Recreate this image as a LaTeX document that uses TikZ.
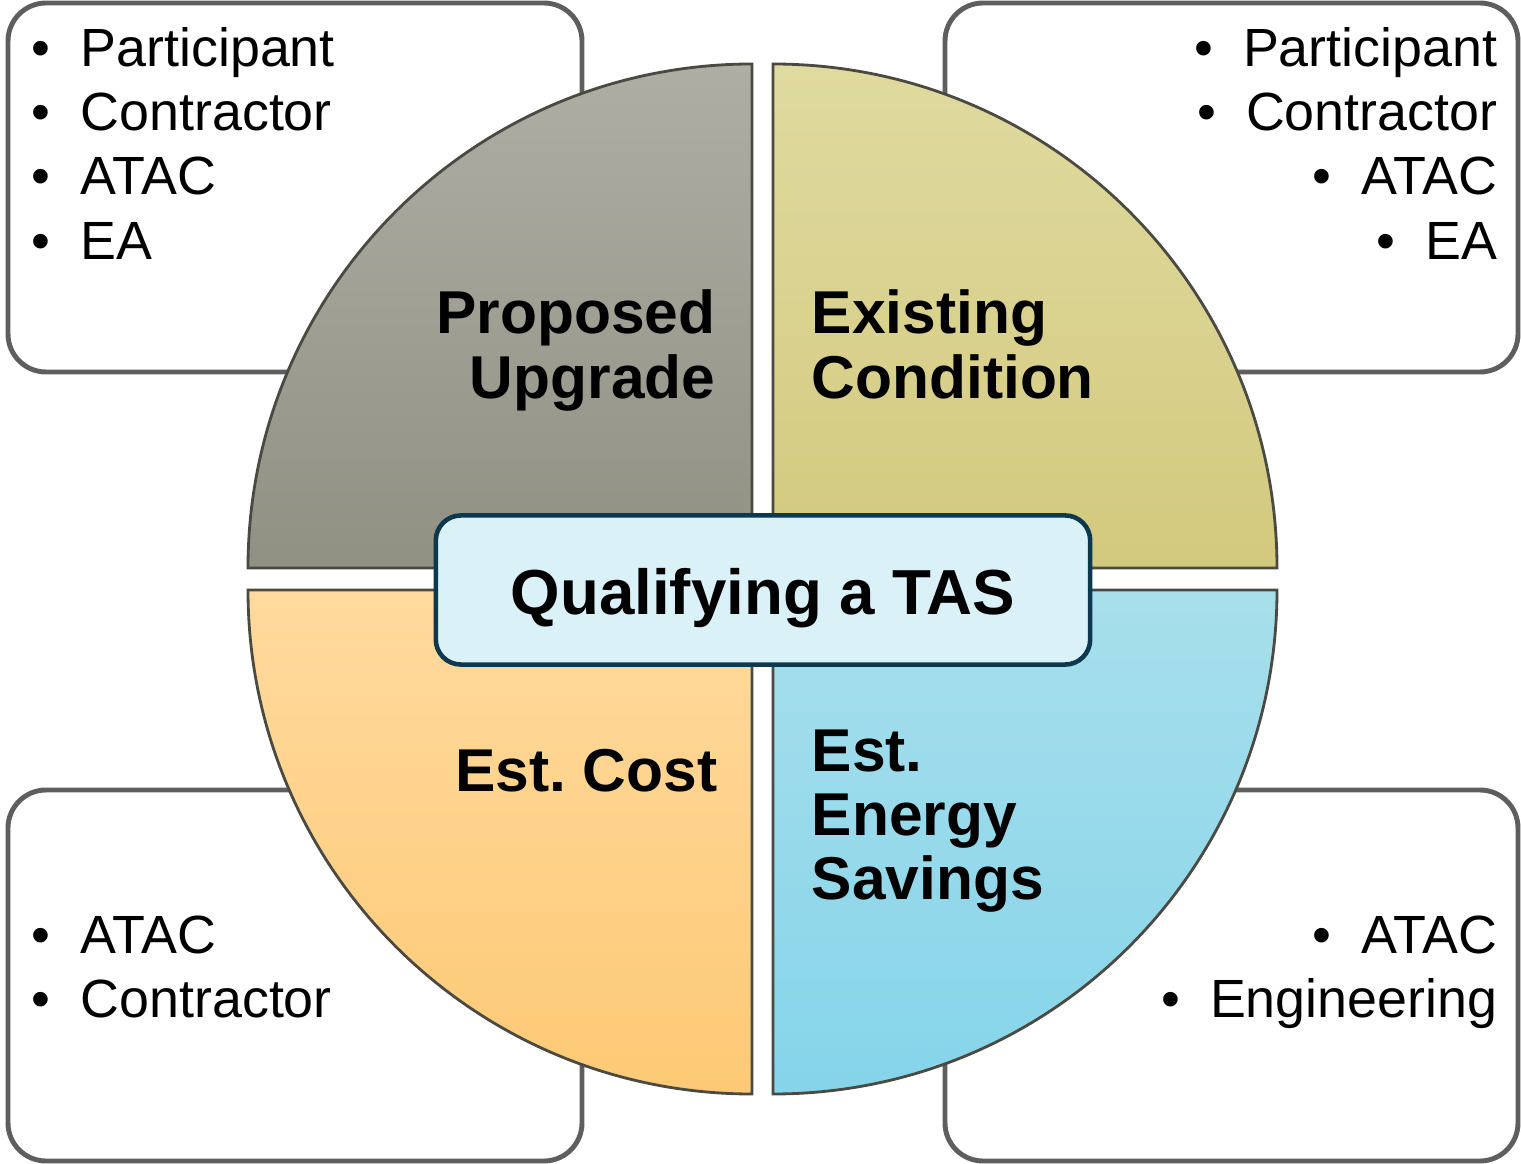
\documentclass[tikz,border=0pt]{standalone}
\usepackage{fontspec}
\setmainfont{Liberation Sans}
\usepackage{xcolor}
\usepackage{tikz}

\definecolor{boxline}{HTML}{5E5E5E}
\definecolor{quadline}{HTML}{4A4A43}
\definecolor{greytop}{HTML}{AEAEA5}
\definecolor{greybot}{HTML}{909083}
\definecolor{olivetop}{HTML}{DFDA9F}
\definecolor{olivebot}{HTML}{D3C97E}
\definecolor{orangetop}{HTML}{FFDA9E}
\definecolor{orangebot}{HTML}{FDC975}
\definecolor{bluetop}{HTML}{A8DFEB}
\definecolor{bluebot}{HTML}{85D4EA}
\definecolor{tasfill}{HTML}{D9F1F7}
\definecolor{tasline}{HTML}{0C394E}

\newcommand{\bul}{\llap{\textbullet\hspace{0.3cm}}}

\begin{document}
\begin{tikzpicture}[x=0.01cm,y=-0.01cm,
  sidebox/.style={draw=boxline,line width=1.4pt,fill=white,rounded corners=0.38cm},
  quad/.style={draw=quadline,line width=0.8pt},
  item/.style={inner sep=0pt,font=\fontsize{15.3}{18}\selectfont},
  qlabel/.style={inner sep=0pt,font=\fontsize{17.2}{20}\selectfont\bfseries},
  titlebox/.style={draw=tasline,fill=tasfill,line width=1.3pt,rounded corners=0.25cm,
    minimum width=6.54cm,minimum height=1.49cm,inner sep=0pt,
    text height=0.49cm,text depth=0pt,font=\fontsize{18.1}{20}\selectfont\bfseries}]

\useasboundingbox (0,0) rectangle (1521,1164);

% corner boxes
\draw [sidebox] (8,3) rectangle (582,372);
\draw [sidebox] (945,3) rectangle (1518,372);
\draw [sidebox] (8,790) rectangle (582,1161);
\draw [sidebox] (945,790) rectangle (1518,1161);

% the four quarters
\draw [quad,top color=greytop,bottom color=greybot] (752,568) -- (248,568)
  arc [start angle=180,end angle=270,radius=504] -- cycle;
\draw [quad,top color=olivetop,bottom color=olivebot] (773,568) -- (773,64)
  arc [start angle=270,end angle=360,radius=504] -- cycle;
\draw [quad,top color=bluetop,bottom color=bluebot] (773,590) -- (1277,590)
  arc [start angle=0,end angle=90,radius=504] -- cycle;
\draw [quad,top color=orangetop,bottom color=orangebot] (752,590) -- (752,1094)
  arc [start angle=90,end angle=180,radius=504] -- cycle;

\node [titlebox] (tas) at (763,590) {Qualifying a TAS};

% quarter labels
\node [qlabel,anchor=base east] (prop) at (716,334) {Proposed};
\node [qlabel,anchor=base east] (upg) at (716,399) {Upgrade};
\node [qlabel,anchor=base west] (exist) at (811,334) {Existing};
\node [qlabel,anchor=base west] (cond) at (811,399) {Condition};
\node [qlabel,anchor=base east] (cost) at (718,791) {Est.~Cost};
\node [qlabel,anchor=base west] (est) at (811,771) {Est.};
\node [qlabel,anchor=base west] (energy) at (811,835) {Energy};
\node [qlabel,anchor=base west] (sav) at (811,899) {Savings};

% lists
\node [item,anchor=base west] (tl1) at (80,67) {\bul Participant};
\node [item,anchor=base west] (tl2) at (80,131) {\bul Contractor};
\node [item,anchor=base west] (tl3) at (80,195) {\bul ATAC};
\node [item,anchor=base west] (tl4) at (80,260) {\bul EA};

\node [item,anchor=base east] (tr1) at (1498,67) {\bul Participant};
\node [item,anchor=base east] (tr2) at (1498,131) {\bul Contractor};
\node [item,anchor=base east] (tr3) at (1498,195) {\bul ATAC};
\node [item,anchor=base east] (tr4) at (1498,260) {\bul EA};

\node [item,anchor=base west] (bl1) at (80,953) {\bul ATAC};
\node [item,anchor=base west] (bl2) at (80,1017) {\bul Contractor};

\node [item,anchor=base east] (br1) at (1498,953) {\bul ATAC};
\node [item,anchor=base east] (br2) at (1498,1017) {\bul Engineering};

\end{tikzpicture}
\end{document}
